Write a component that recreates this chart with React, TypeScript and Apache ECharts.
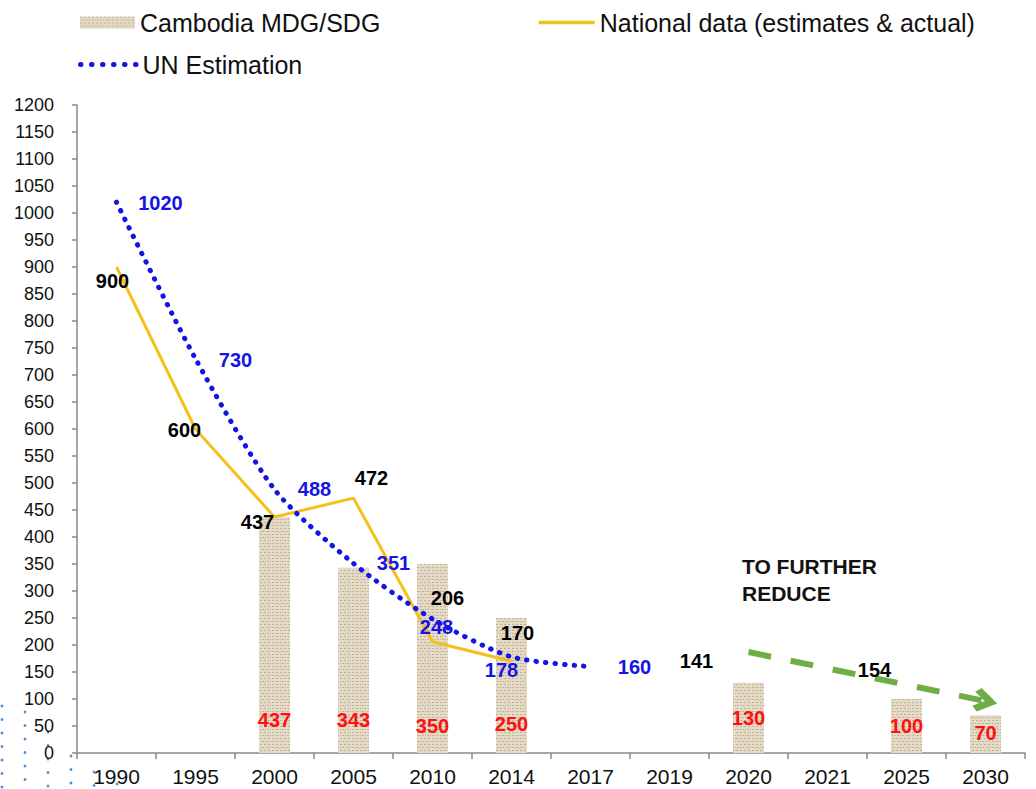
import React, { useEffect, useRef } from "react";
import * as echarts from "echarts";

// ---- data ----
const categories = ["1990", "1995", "2000", "2005", "2010", "2014", "2017", "2019", "2020", "2021", "2025", "2030"];
const targetValues = [null, null, 437, 343, 350, 250, null, null, 130, null, 100, 70];
const nationalValues = [900, 600, 437, 472, 206, 170, null, 141, null, 154, null, null];
const unValues = [1020, 730, 488, 351, 248, 178, 160, null, null, null, null, null];
// trend arrow "to further reduce" (category, value)
const arrowStart = ["2020", 187];
const arrowEnd = ["2030", 96];
const yMin = 0;
const yMax = 1200;
const yInterval = 50;

// ---- label placement (styling, not data) ----
const nationalLabelOffsets: (number[] | null)[] = [[-4, 14], [-11, 1], [-17, 5], [18, -20], [15, -44], [6, -28], null, [27, -16], null, [47, 0], null, null];
const unLabelOffsets: (number[] | null)[] = [[44, 1], [40, 1], [40, 0], [40, 0], [4, 8], [-10, 13], [44, 0], null, null, null, null, null];
const barLabelOffsets: number[] = [0, 0, 0, 0, 6, 4, 0, 0, -2, 0, 6, 13];

const FONT = '"Liberation Sans", Arial, Helvetica, sans-serif';
const BLUE = "#1414e6";
const YELLOW = "#f4c11c";
const RED = "#ff1010";
const GREEN = "#6fae45";
const ARROW_HEAD = "path://M10,0 L20,10 L16,13 L10,7 L4,13 L0,10 Z";

function labelPoints(values: (number | null)[], offsets: (number[] | null)[]) {
  const out: any[] = [];
  values.forEach((v, i) => {
    if (v == null) return;
    out.push({ value: [categories[i], v], label: { offset: offsets[i] || [0, 0] } });
  });
  return out;
}

// decorative dot pattern in the lower-left corner of the slide
function cornerDots() {
  const els: any[] = [];
  const cols = [2, 25, 48, 71, 94, 117];
  const startY = [706, 712, 732, 756, 772, 784];
  cols.forEach((x, c) => {
    for (let y = startY[c]; y < 792; y += 13.5) {
      els.push({ type: "circle", shape: { cx: x, cy: y, r: 1.4 }, style: { fill: "#4f8fd0" }, silent: true });
    }
  });
  return els;
}

export default function App() {
  const ref = useRef<HTMLDivElement>(null);
  useEffect(() => {
    const chart = echarts.init(ref.current!, null, { renderer: "svg" });
    const legendText = { fontSize: 25, color: "#111", fontFamily: FONT };
    const hiddenSymbol = { color: "rgba(0,0,0,0)", borderWidth: 0, opacity: 0 };
    const option: any = {
      animation: false,
      textStyle: { fontFamily: FONT },
      grid: { left: 77, right: 11, top: 105, bottom: 36, containLabel: false },
      legend: [
        {
          left: 80, top: 10, padding: 0, data: [{ name: "Cambodia MDG/SDG", icon: "rect" }],
          itemWidth: 55, itemHeight: 12, itemGap: 0,
          textStyle: legendText, selectedMode: false,
        },
        {
          left: 537, top: 10, padding: 0, data: ["National data (estimates & actual)"],
          itemWidth: 56, itemHeight: 12, itemStyle: hiddenSymbol,
          lineStyle: { color: YELLOW, width: 3.5 },
          textStyle: legendText, selectedMode: false,
        },
        {
          left: 78, top: 52, padding: 0, data: ["UN Estimation"],
          itemWidth: 57, itemHeight: 12, itemStyle: hiddenSymbol,
          lineStyle: { color: BLUE, width: 5, type: [0.5, 10.5], cap: "round" },
          textStyle: legendText, selectedMode: false,
        },
      ],
      xAxis: {
        type: "category",
        data: categories,
        boundaryGap: true,
        axisLine: { lineStyle: { color: "#8a8a8a", width: 1.5 } },
        axisTick: { show: true, length: 6, lineStyle: { color: "#8a8a8a", width: 1.5 } },
        axisLabel: { fontSize: 21, color: "#111", margin: 13, fontFamily: FONT },
      },
      yAxis: {
        type: "value",
        min: yMin,
        max: yMax,
        interval: yInterval,
        splitLine: { show: false },
        axisLine: { show: true, lineStyle: { color: "#8a8a8a", width: 1.5 } },
        axisTick: { show: true, length: 5, lineStyle: { color: "#8a8a8a", width: 1.5 } },
        axisLabel: { fontSize: 18, color: "#111", margin: 23, fontFamily: FONT, formatter: (v: number) => String(v) },
      },
      series: [
        {
          name: "Cambodia MDG/SDG",
          type: "bar",
          data: targetValues.map((v, i) => (v == null ? null : { value: v, label: { offset: [0, barLabelOffsets[i]] } })),
          barWidth: 31,
          z: 1,
          itemStyle: {
            color: "#e4dac6",
            decal: {
              symbol: "rect",
              symbolSize: 1,
              color: "rgba(110,95,70,0.32)",
              dashArrayX: [[1, 1, 2, 1], [2, 2]],
              dashArrayY: [1, 2],
              rotation: 0,
            },
          },
          label: {
            show: true,
            position: "insideBottom",
            distance: 23,
            color: RED,
            fontSize: 20,
            fontWeight: "bold",
            fontFamily: FONT,
          },
          markLine: {
            silent: true,
            symbol: ["none", ARROW_HEAD],
            symbolSize: 24,
            label: { show: false },
            lineStyle: { color: GREEN, width: 6, type: [23, 20], cap: "butt" },
            itemStyle: { color: GREEN },
            data: [[{ coord: arrowStart }, { coord: arrowEnd }]],
          },
        },
        {
          name: "National data (estimates & actual)",
          type: "line",
          data: nationalValues,
          symbol: "none",
          connectNulls: false,
          z: 3,
          lineStyle: { color: YELLOW, width: 3 },
          itemStyle: { color: YELLOW },
        },
        {
          name: "UN Estimation",
          type: "line",
          data: unValues,
          symbol: "none",
          smooth: 0.25,
          z: 4,
          lineStyle: { color: BLUE, width: 5, type: [0.5, 9], cap: "round" },
          itemStyle: { color: BLUE },
        },
        {
          name: "national-labels",
          type: "scatter",
          data: labelPoints(nationalValues, nationalLabelOffsets),
          symbolSize: 0,
          z: 6,
          silent: true,
          itemStyle: { opacity: 1 },
          label: {
            show: true,
            position: "inside",
            formatter: (p: any) => String(p.value[1]),
            color: "#000",
            opacity: 1,
            fontSize: 20,
            fontWeight: "bold",
            fontFamily: FONT,
          },
        },
        {
          name: "un-labels",
          type: "scatter",
          data: labelPoints(unValues, unLabelOffsets),
          symbolSize: 0,
          z: 6,
          silent: true,
          itemStyle: { opacity: 1 },
          label: {
            show: true,
            position: "inside",
            formatter: (p: any) => String(p.value[1]),
            color: BLUE,
            opacity: 1,
            fontSize: 20,
            fontWeight: "bold",
            fontFamily: FONT,
          },
        },
      ],
      graphic: [
        {
          type: "text",
          left: 742,
          top: 553,
          style: {
            text: "TO FURTHER\nREDUCE",
            fontSize: 21,
            fontWeight: "bold",
            lineHeight: 27,
            fill: "#111",
            fontFamily: FONT,
          },
        },
        { type: "group", silent: true, children: cornerDots() },
      ],
    };
    chart.setOption(option);
    return () => chart.dispose();
  }, []);
  return <div ref={ref} style={{ position: "absolute", left: 0, top: 0, width: 1036, height: 789 }} />;
}
